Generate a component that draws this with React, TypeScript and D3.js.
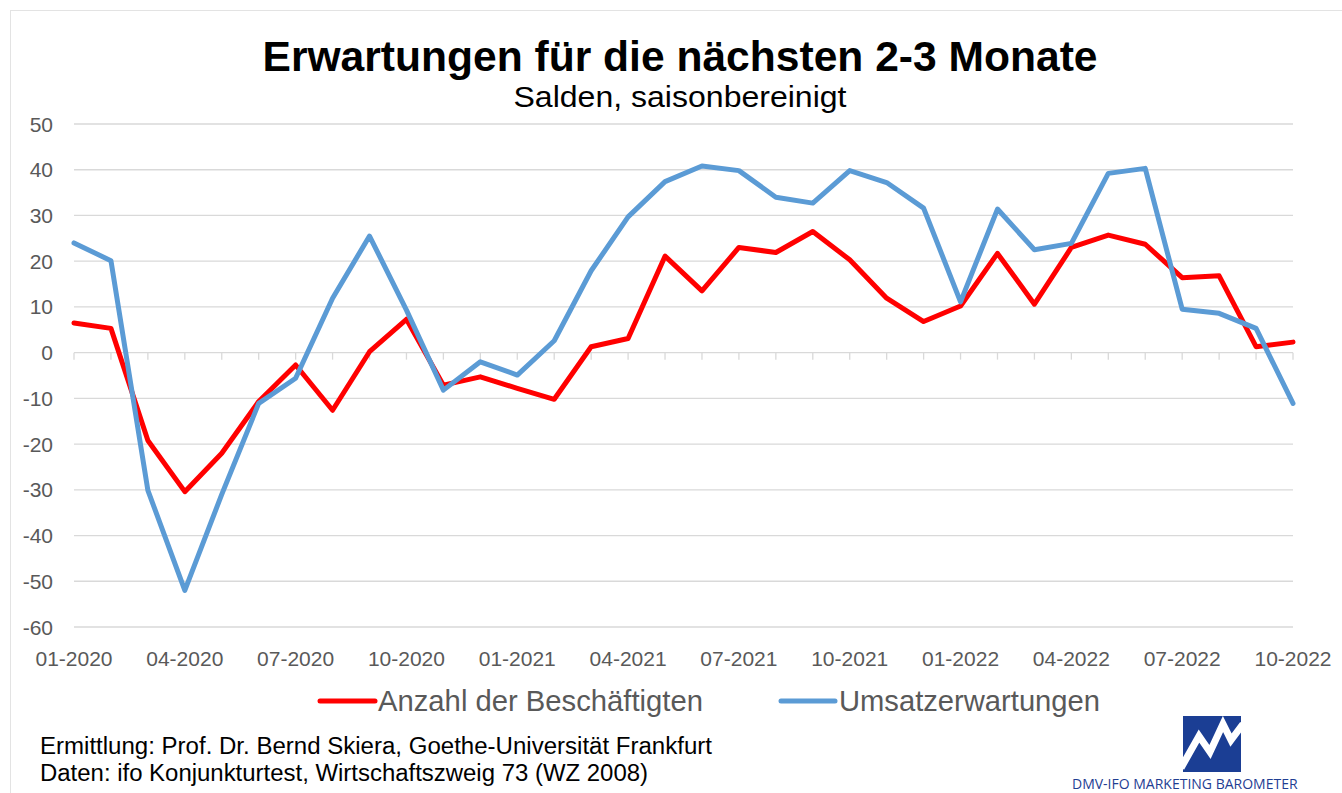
import React from "react";
import * as d3 from "d3";

const months = [
    "01-2020", "02-2020", "03-2020", "04-2020", "05-2020", "06-2020",
    "07-2020", "08-2020", "09-2020", "10-2020", "11-2020", "12-2020",
    "01-2021", "02-2021", "03-2021", "04-2021", "05-2021", "06-2021",
    "07-2021", "08-2021", "09-2021", "10-2021", "11-2021", "12-2021",
    "01-2022", "02-2022", "03-2022", "04-2022", "05-2022", "06-2022",
    "07-2022", "08-2022", "09-2022", "10-2022",
];

// Anzahl der Beschäftigten
const employees = [
    6.5, 5.3, -19.2, -30.4, -22.0, -10.7, -2.7, -12.6, 0.2, 7.3, -7.1, -5.3,
    -7.8, -10.2, 1.3, 3.1, 21.1, 13.5, 23.0, 21.9, 26.5, 20.3, 11.9, 6.8,
    10.2, 21.7, 10.6, 23.0, 25.7, 23.7, 16.4, 16.8, 1.3, 2.3,
];

// Umsatzerwartungen
const sales = [
    24.0, 20.1, -30.1, -52.0, -31.0, -11.1, -5.6, 11.9, 25.5, 9.3, -8.2, -2.0,
    -4.9, 2.6, 17.9, 29.7, 37.4, 40.8, 39.8, 34.0, 32.7, 39.8, 37.2, 31.6,
    11.1, 31.4, 22.5, 23.9, 39.2, 40.3, 9.5, 8.6, 5.3, -11.1,
];

const xTickLabels = [
    "01-2020", "04-2020", "07-2020", "10-2020", "01-2021", "04-2021",
    "07-2021", "10-2021", "01-2022", "04-2022", "07-2022", "10-2022",
];

const yTicks = [-60, -50, -40, -30, -20, -10, 0, 10, 20, 30, 40, 50];

const seriesNames = ["Anzahl der Beschäftigten", "Umsatzerwartungen"];
const seriesColors = ["#FF0000", "#5B9BD5"];

const W = 1342;
const H = 793;

export default function App() {
    const x = d3.scalePoint<string>().domain(months).range([74, 1293]);
    const y = d3.scaleLinear().domain([-60, 50]).range([627, 124]);

    const line = d3.line<number>()
        .x((d, i) => x(months[i])!)
        .y((d) => y(d));

    const font = "'Liberation Sans', Arial, sans-serif";
    const grey = "#595959";

    return <svg width={W} height={H} style={{ position: "absolute", left: 0, top: 0, background: "#fff" }}>
        <rect x={10.5} y={10.5} width={1340} height={800} fill="#fff" stroke="#E3E3E3" />

        {/* Titles */}
        <text x={680} y={71} textAnchor="middle" fontFamily={font} fontWeight="bold" fontSize={43}
            textLength={835} lengthAdjust="spacingAndGlyphs" fill="#000">
            Erwartungen für die nächsten 2-3 Monate
        </text>
        <text x={680} y={107} textAnchor="middle" fontFamily={font} fontSize={29}
            textLength={333} lengthAdjust="spacingAndGlyphs" fill="#000">
            Salden, saisonbereinigt
        </text>

        {/* Grid */}
        <g>
            {yTicks.map((t) => (
                <g key={t}>
                    <line x1={74} x2={1293} y1={y(t)} y2={y(t)} stroke="#D9D9D9" strokeWidth={1.3} />
                    <text x={53} y={y(t)} dy="0.36em" textAnchor="end" fontFamily={font} fontSize={21} fill={grey}>{t}</text>
                </g>
            ))}
        </g>

        {/* Month ticks on zero line */}
        <g>
            {months.map((m) => (
                <line key={m} x1={x(m)} x2={x(m)} y1={y(0)} y2={y(0) + 7} stroke="#D9D9D9" strokeWidth={1.3} />
            ))}
        </g>
        <g>
            {xTickLabels.map((m) => (
                <text key={m} x={x(m)} y={666} textAnchor="middle" fontFamily={font} fontSize={21} fill={grey}>{m}</text>
            ))}
        </g>

        {/* Series */}
        <path d={line(employees)!} fill="none" stroke={seriesColors[0]} strokeWidth={5} strokeLinejoin="round" strokeLinecap="round" />
        <path d={line(sales)!} fill="none" stroke={seriesColors[1]} strokeWidth={5} strokeLinejoin="round" strokeLinecap="round" />

        {/* Legend */}
        <g>
            <line x1={320} x2={375} y1={701} y2={701} stroke={seriesColors[0]} strokeWidth={5} strokeLinecap="round" />
            <text x={378} y={711} fontFamily={font} fontSize={29} fill={grey} textLength={325} lengthAdjust="spacingAndGlyphs">{seriesNames[0]}</text>
            <line x1={781} x2={835} y1={701} y2={701} stroke={seriesColors[1]} strokeWidth={5} strokeLinecap="round" />
            <text x={839} y={711} fontFamily={font} fontSize={29} fill={grey} textLength={261} lengthAdjust="spacingAndGlyphs">{seriesNames[1]}</text>
        </g>

        {/* Footer */}
        <text x={40} y={754} fontFamily={font} fontSize={23} fill="#000" textLength={672} lengthAdjust="spacingAndGlyphs">
            Ermittlung: Prof. Dr. Bernd Skiera, Goethe-Universität Frankfurt
        </text>
        <text x={40} y={781} fontFamily={font} fontSize={23} fill="#000" textLength={608} lengthAdjust="spacingAndGlyphs">
            Daten: ifo Konjunkturtest, Wirtschaftszweig 73 (WZ 2008)
        </text>

        {/* Logo */}
        <g transform="translate(1183,716)">
            <clipPath id="logoClip"><rect width={58} height={56} /></clipPath>
            <rect width={58} height={56} fill="#1B3E94" />
            <polyline clipPath="url(#logoClip)" points="-2,52 16,20 27,36 40,8 48,24 60,8"
                fill="none" stroke="#fff" strokeWidth={7} strokeLinejoin="miter" />
        </g>
        <text x={1072} y={789} fontFamily="'Open Sans', sans-serif" fontSize={14} fill="#1F3E93">DMV-IFO MARKETING BAROMETER</text>
    </svg>;
}
